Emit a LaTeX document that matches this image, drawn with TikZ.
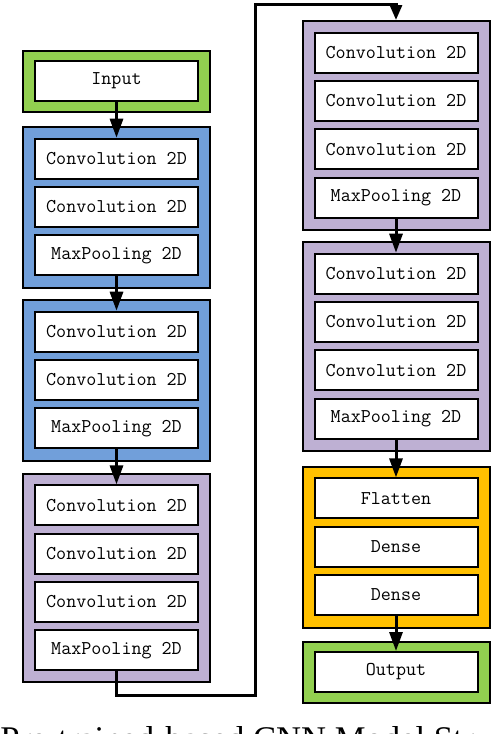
\documentclass[tikz,border=0pt]{standalone}
\usepackage{fontspec}
\newfontfamily\capfont{Liberation Serif}
\usetikzlibrary{arrows.meta}
\definecolor{cgreen}{RGB}{146,208,80}
\definecolor{cblue}{RGB}{113,159,218}
\definecolor{cpurple}{RGB}{190,176,211}
\definecolor{corange}{RGB}{255,192,0}
\begin{document}
\begin{tikzpicture}[x=1pt,y=-1pt,
  grp/.style={draw=black,line width=2pt,minimum width=187pt,inner sep=0pt,anchor=north},
  lyr/.style={draw=black,line width=2pt,fill=white,minimum width=163pt,minimum height=40pt,inner sep=0pt,anchor=north,font=\fontsize{19.5}{22}\selectfont\ttfamily},
  conn/.style={line width=3pt,-{Triangle[length=19pt,width=13pt]}},
  conntop/.style={line width=3pt,-{Triangle[length=15pt,width=12pt]}}]
\useasboundingbox (0,0) rectangle (496,734);
% left column
\node[grp,fill=cgreen,minimum height=61pt] (gin) at (116.5,50) {};
\node[lyr] (input) at (116.5,60) {Input};
\node[grp,fill=cblue,minimum height=161pt] (gb1) at (116.5,126) {};
\node[lyr] (b1c1) at (116.5,137.7) {Convolution 2D};
\node[lyr] (b1c2) at (116.5,186) {Convolution 2D};
\node[lyr] (b1m) at (116.5,234.3) {MaxPooling 2D};
\node[grp,fill=cblue,minimum height=161pt] (gb2) at (116.5,299) {};
\node[lyr] (b2c1) at (116.5,310.7) {Convolution 2D};
\node[lyr] (b2c2) at (116.5,359) {Convolution 2D};
\node[lyr] (b2m) at (116.5,407.3) {MaxPooling 2D};
\node[grp,fill=cpurple,minimum height=208pt] (gp1) at (116.5,472.7) {};
\node[lyr] (p1c1) at (116.5,484.4) {Convolution 2D};
\node[lyr] (p1c2) at (116.5,532.7) {Convolution 2D};
\node[lyr] (p1c3) at (116.5,581) {Convolution 2D};
\node[lyr] (p1m) at (116.5,629.3) {MaxPooling 2D};
% right column
\node[grp,fill=cpurple,minimum height=209pt] (gp2) at (396,20) {};
\node[lyr] (p2c1) at (396,31.7) {Convolution 2D};
\node[lyr] (p2c2) at (396,80) {Convolution 2D};
\node[lyr] (p2c3) at (396,128.3) {Convolution 2D};
\node[lyr] (p2m) at (396,176.6) {MaxPooling 2D};
\node[grp,fill=cpurple,minimum height=209pt] (gp3) at (396,241) {};
\node[lyr] (p3c1) at (396,252.7) {Convolution 2D};
\node[lyr] (p3c2) at (396,301) {Convolution 2D};
\node[lyr] (p3c3) at (396,349.3) {Convolution 2D};
\node[lyr] (p3m) at (396,397.6) {MaxPooling 2D};
\node[grp,fill=corange,minimum height=161pt] (gfc) at (396,465.7) {};
\node[lyr] (flat) at (396,477.4) {Flatten};
\node[lyr] (d1) at (396,525.7) {Dense};
\node[lyr] (d2) at (396,574) {Dense};
\node[grp,fill=cgreen,minimum height=61pt] (gout) at (396,640.7) {};
\node[lyr] (output) at (396,651) {Output};
% connectors
\draw[conn] (input.south) -- (b1c1.north);
\draw[conn] (b1m.south) -- (b2c1.north);
\draw[conn] (b2m.south) -- (p1c1.north);
\coordinate (bendA) at (255.5,695.5);
\coordinate (bendB) at (255.5,4.5);
\draw[conntop] (p1m.south) -- (p1m.south |- bendA) -- (bendA) -- (bendB) -- (bendB -| gp2.north) -- (gp2.north);
\draw[conn] (p2m.south) -- (p3c1.north);
\draw[conn] (p3m.south) -- (flat.north);
\draw[conn] (d2.south) -- (output.north);
% caption (cut off at the bottom edge, as in the reference)
\begin{scope}
\clip (0,0) rectangle (496,734);
\node[font=\fontsize{34.6}{40}\selectfont\capfont,anchor=base,inner sep=0pt] (cap) at (256,750) {(b) Pre-trained-based CNN Model Structure};
\end{scope}
\end{tikzpicture}
\end{document}
